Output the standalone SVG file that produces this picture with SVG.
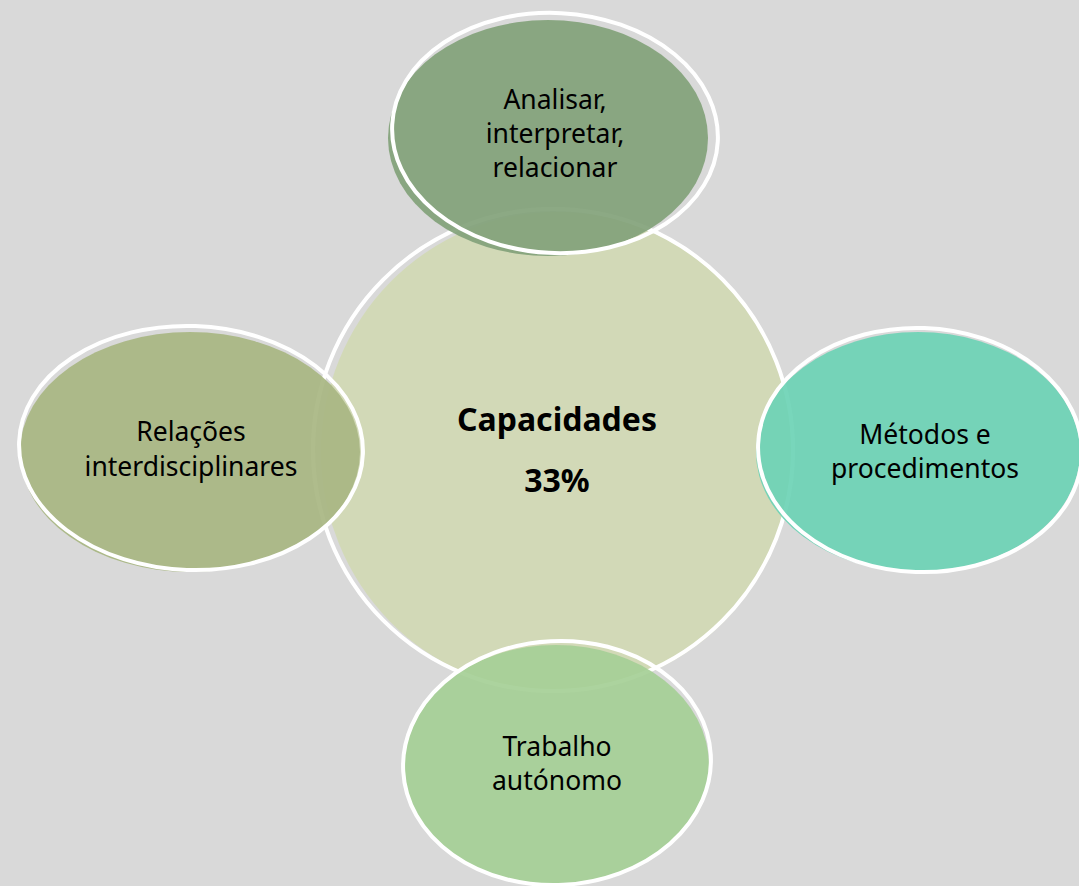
<svg xmlns="http://www.w3.org/2000/svg" width="1079" height="886" viewBox="0 0 1079 886">
<style>
.lbl{font-family:"Noto Sans","Open Sans","DejaVu Sans",sans-serif;font-size:26.5px;fill:#000;text-anchor:middle}
.ctr{font-family:"Noto Sans","Open Sans","DejaVu Sans",sans-serif;font-size:32px;font-weight:bold;fill:#000;text-anchor:middle}
.edge{fill:none;stroke:#fff;stroke-width:4}
</style>
<rect width="1079" height="886" fill="#d9d9d9"/>
<g id="center">
<ellipse cx="557" cy="452" rx="236" ry="240" fill="#d2d9b7"/>
<ellipse cx="553" cy="450" rx="240" ry="241" class="edge"/>
<text class="ctr" x="557" y="431">Capacidades</text>
<text class="ctr" x="557" y="492">33%</text>
</g>
<g id="top">
<ellipse cx="548" cy="138" rx="160" ry="118" fill="#82a27a" opacity="0.92"/>
<ellipse cx="555" cy="133" rx="163" ry="120" class="edge" transform="rotate(3 555 133)"/>
<text class="lbl" x="555" y="109">Analisar,</text>
<text class="lbl" x="555" y="143">interpretar,</text>
<text class="lbl" x="555" y="177">relacionar</text>
</g>
<g id="left">
<ellipse cx="190" cy="452" rx="170" ry="120" fill="#a8b682" opacity="0.92"/>
<ellipse cx="191" cy="448" rx="172" ry="122" class="edge" transform="rotate(2 191 448)"/>
<text class="lbl" x="191" y="441">Relações</text>
<text class="lbl" x="191" y="476">interdisciplinares</text>
</g>
<g id="right">
<ellipse cx="918" cy="452" rx="162" ry="120" fill="#6cd2b5" opacity="0.92"/>
<ellipse cx="920" cy="450" rx="162" ry="122" class="edge" transform="rotate(2 920 450)"/>
<text class="lbl" x="925" y="444">Métodos e</text>
<text class="lbl" x="925" y="478">procedimentos</text>
</g>
<g id="bottom">
<ellipse cx="556" cy="765" rx="153" ry="120" fill="#a5cf96" opacity="0.92"/>
<ellipse cx="557" cy="763" rx="154" ry="122" class="edge" transform="rotate(-3 557 763)"/>
<text class="lbl" x="557" y="756">Trabalho</text>
<text class="lbl" x="557" y="790">autónomo</text>
</g>
<g id="connectors"/>
</svg>
